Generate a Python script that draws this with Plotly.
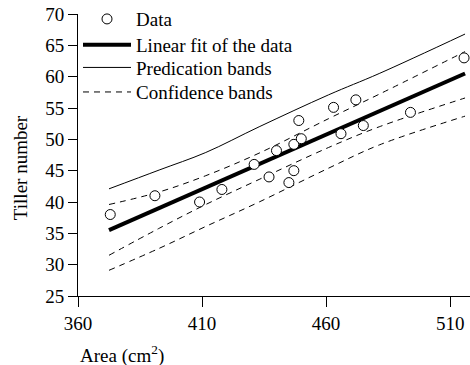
import plotly.graph_objects as go

# Data points (Area cm^2, Tiller number)
area = [373, 391, 409, 418, 431, 437, 440, 445, 447, 447, 450, 449, 463, 466, 472, 475, 494, 515.6]
tiller = [38, 41, 40, 42, 46, 44, 48.2, 43.1, 45, 49.2, 50.1, 53, 55.1, 50.9, 56.3, 52.2, 54.3, 63]

# Linear fit line end points
fit_x = [372.5, 516]
fit_y = [35.5, 60.5]

# Band curves read at these x positions
band_x = [372.5, 392.7, 411.5, 433, 461, 481.4, 516]
pred_upper = [42.1, 45.1, 47.9, 52.0, 57.1, 60.5, 66.8]
pred_lower = [29.1, 32.6, 36.1, 40.0, 45.4, 49.1, 53.7]
conf_upper = [39.6, 41.6, 44.2, 47.8, 53.3, 57.2, 64.0]
conf_lower = [31.5, 35.8, 39.6, 43.6, 48.7, 52.0, 56.6]

x_ticks = [360, 410, 460, 510]
y_ticks = [25, 30, 35, 40, 45, 50, 55, 60, 65, 70]

FONT = "Liberation Serif, Times New Roman, serif"
DASH = "6px,5px"

fig = go.Figure()

fig.add_trace(go.Scatter(x=band_x, y=pred_upper, mode="lines", name="Predication bands",
                         line=dict(color="black", width=1, shape="spline"), legend="legend3"))
fig.add_trace(go.Scatter(x=band_x, y=pred_lower, mode="lines", showlegend=False,
                         line=dict(color="black", width=1, dash=DASH, shape="spline")))
fig.add_trace(go.Scatter(x=band_x, y=conf_upper, mode="lines", name="Confidence bands",
                         line=dict(color="black", width=1, dash=DASH, shape="spline"), legend="legend4"))
fig.add_trace(go.Scatter(x=band_x, y=conf_lower, mode="lines", showlegend=False,
                         line=dict(color="black", width=1, dash=DASH, shape="spline")))
fig.add_trace(go.Scatter(x=fit_x, y=fit_y, mode="lines", name="Linear fit of the data",
                         line=dict(color="black", width=4), legend="legend2"))
fig.add_trace(go.Scatter(x=area, y=tiller, mode="markers", name="Data",
                         marker=dict(symbol="circle", size=10, color="white",
                                     line=dict(color="black", width=1)),
                         cliponaxis=False, legend="legend"))


def leg(ycenter):
    return dict(x=0.0, y=ycenter, xanchor="left", yanchor="middle",
                bgcolor="rgba(0,0,0,0)", font=dict(size=19, family=FONT),
                itemwidth=48)


fig.update_layout(
    width=470, height=365,
    margin=dict(l=78, r=0, t=14, b=69, autoexpand=False),
    paper_bgcolor="white", plot_bgcolor="white",
    font=dict(family=FONT, size=19, color="black"),
    showlegend=True,
    legend=leg(0.982),
    legend2=leg(0.890),
    legend3=leg(0.810),
    legend4=leg(0.723),
    xaxis=dict(range=[360, 518], tickvals=x_ticks, ticks="outside", ticklen=10,
               tickwidth=1, tickcolor="black", showline=True, linecolor="black",
               linewidth=1, showgrid=False, zeroline=False, automargin=False,
               ticklabeloverflow="allow"),
    yaxis=dict(range=[25, 70], tickvals=y_ticks, ticks="outside", ticklen=9,
               tickwidth=1, tickcolor="black", showline=True, linecolor="black",
               linewidth=1, showgrid=False, zeroline=False, automargin=False,
               ticklabeloverflow="allow"),
    annotations=[
        dict(text="Area (cm<sup>2</sup>)", xref="paper", yref="paper", x=0.0, y=-0.206,
             xanchor="left", yanchor="middle", showarrow=False,
             font=dict(size=19, family=FONT)),
        dict(text="Tiller number", xref="paper", yref="paper", x=-0.145, y=0.454,
             xanchor="center", yanchor="middle", textangle=-90, showarrow=False,
             font=dict(size=19, family=FONT)),
    ],
)

fig.write_html("out.html",
               config={"displayModeBar": False},
               post_script="document.body.style.margin='0';document.body.style.overflow='hidden';")
